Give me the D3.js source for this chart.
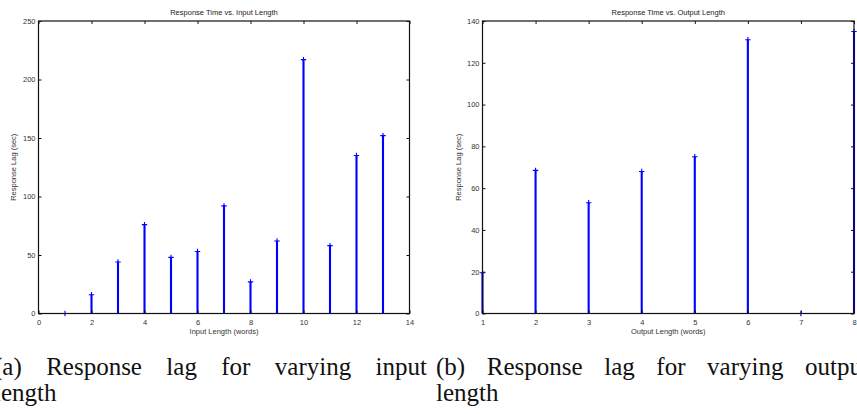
<!DOCTYPE html>
<html>
<head>
<meta charset="utf-8">
<script src="https://cdn.jsdelivr.net/npm/d3@7"></script>
<style>
  body { margin: 0; background: #fff; overflow: hidden; }
  svg { display: block; }
</style>
</head>
<body>
<div class="div_d3"></div>
<script>
// data
const inputLength = [1, 2, 3, 4, 5, 6, 7, 8, 9, 10, 11, 12, 13]
const inputLag = [0, 16, 44, 76, 48, 53, 92, 27, 62, 217, 58, 135, 152]
const inputXTicks = [0, 2, 4, 6, 8, 10, 12, 14]
const inputYTicks = [0, 50, 100, 150, 200, 250]

const outputLength = [1, 2, 3, 4, 5, 6, 7, 8]
const outputLag = [19.5, 68.5, 53, 68, 75, 131, 0, 135]
const outputXTicks = [1, 2, 3, 4, 5, 6, 7, 8]
const outputYTicks = [0, 20, 40, 60, 80, 100, 120, 140]

const captionA = ["(a)", "Response", "lag", "for", "varying", "input"]
const captionB = ["(b)", "Response", "lag", "for", "varying", "output"]

const W = 857, H = 414

const svg = d3.select(".div_d3")
  .append("svg")
    .attr("width", W)
    .attr("height", H)

const sans = "'Liberation Sans', Arial, sans-serif"
const serif = "'Liberation Serif', 'Times New Roman', serif"

function drawPanel(p){
    const x = d3.scaleLinear().domain(p.xDomain).range([p.left, p.right])
    const y = d3.scaleLinear().domain(p.yDomain).range([p.bottom, p.top])
    const g = svg.append("g")

    // stems
    g.append("g")
      .selectAll("line")
      .data(p.xs)
      .enter().append("line")
        .attr("x1", d => x(d))
        .attr("x2", d => x(d))
        .attr("y1", y(0))
        .attr("y2", (d, i) => y(p.ys[i]))
        .style("stroke", "#0000ff")
        .style("stroke-width", 2.1)

    // plus markers
    const mk = 2.7
    g.append("g")
      .selectAll("path")
      .data(p.xs)
      .enter().append("path")
        .attr("d", (d, i) => {
            const cx = x(d), cy = y(p.ys[i])
            return `M${cx - mk},${cy}H${cx + mk}M${cx},${cy - mk}V${cy + mk}`
        })
        .style("stroke", "#0000ff")
        .style("stroke-width", 1.1)
        .style("fill", "none")

    // box axes, ticks pointing inward on all four sides
    const axisStyle = sel => {
        sel.select(".domain").remove()
        sel.selectAll(".tick line").style("stroke", "#111")
        sel.selectAll("text")
          .style("font-family", sans)
          .style("font-size", "7.5px")
          .style("fill", "#333")
    }
    g.append("g")
      .attr("transform", `translate(0,${p.bottom})`)
      .call(d3.axisBottom(x).tickValues(p.xTicks).tickSize(-3).tickPadding(6).tickFormat(d3.format("d")))
      .call(axisStyle)
    g.append("g")
      .attr("transform", `translate(0,${p.top})`)
      .call(d3.axisTop(x).tickValues(p.xTicks).tickSize(-3).tickFormat(""))
      .call(axisStyle)
    g.append("g")
      .attr("transform", `translate(${p.left},0)`)
      .call(d3.axisLeft(y).tickValues(p.yTicks).tickSize(-3).tickPadding(3).tickFormat(d3.format("d")))
      .call(axisStyle)
    g.append("g")
      .attr("transform", `translate(${p.right},0)`)
      .call(d3.axisRight(y).tickValues(p.yTicks).tickSize(-3).tickFormat(""))
      .call(axisStyle)

    g.append("rect")
      .attr("x", p.left)
      .attr("y", p.top)
      .attr("width", p.right - p.left)
      .attr("height", p.bottom - p.top)
      .style("fill", "none")
      .style("stroke", "#111")
      .style("stroke-width", 1.2)

    const cx = (p.left + p.right) / 2
    g.append("text")
      .text(p.title)
      .attr("x", cx)
      .attr("y", 15)
      .attr("text-anchor", "middle")
      .style("font-family", sans)
      .style("font-size", "7.5px")
      .style("fill", "#222")
    g.append("text")
      .text(p.xLabel)
      .attr("x", cx)
      .attr("y", 334)
      .attr("text-anchor", "middle")
      .style("font-family", sans)
      .style("font-size", "7.5px")
      .style("fill", "#333")
    g.append("text")
      .text("Response Lag (sec)")
      .attr("transform", `translate(${p.yLabelX},${(p.top + p.bottom) / 2}) rotate(-90)`)
      .attr("text-anchor", "middle")
      .style("font-family", sans)
      .style("font-size", "7.5px")
      .style("fill", "#333")
}

drawPanel({
    left: 38.5, right: 409.5, top: 21, bottom: 313.5,
    xDomain: [0, 14], yDomain: [0, 250],
    xs: inputLength, ys: inputLag,
    xTicks: inputXTicks, yTicks: inputYTicks,
    title: "Response Time vs. Input Length",
    xLabel: "Input Length (words)",
    yLabelX: 15.5
})

drawPanel({
    left: 482.5, right: 854, top: 21, bottom: 313.5,
    xDomain: [1, 8], yDomain: [0, 140],
    xs: outputLength, ys: outputLag,
    xTicks: outputXTicks, yTicks: outputYTicks,
    title: "Response Time vs. Output Length",
    xLabel: "Output Length (words)",
    yLabelX: 460.5
})

// justified two-line subfigure captions (cut by the page edge as in the source)
function caption(words, x0, x1){
    const g = svg.append("g")
      .style("font-family", serif)
      .style("font-size", "25px")
      .style("fill", "#111")
    const t = g.selectAll("text.w")
      .data(words)
      .enter().append("text")
        .attr("class", "w")
        .attr("y", 375)
        .text(d => d)
    const widths = []
    t.each(function(){ widths.push(this.getComputedTextLength()) })
    const gap = (x1 - x0 - d3.sum(widths)) / (words.length - 1)
    let pos = x0
    t.attr("x", (d, i) => {
        const here = pos
        pos += widths[i] + gap
        return here
    })
    g.append("text")
      .text("length")
      .attr("x", x0)
      .attr("y", 401)
}

caption(captionA, -6, 427)
caption(captionB, 436, 869)
</script>
</body>
</html>
